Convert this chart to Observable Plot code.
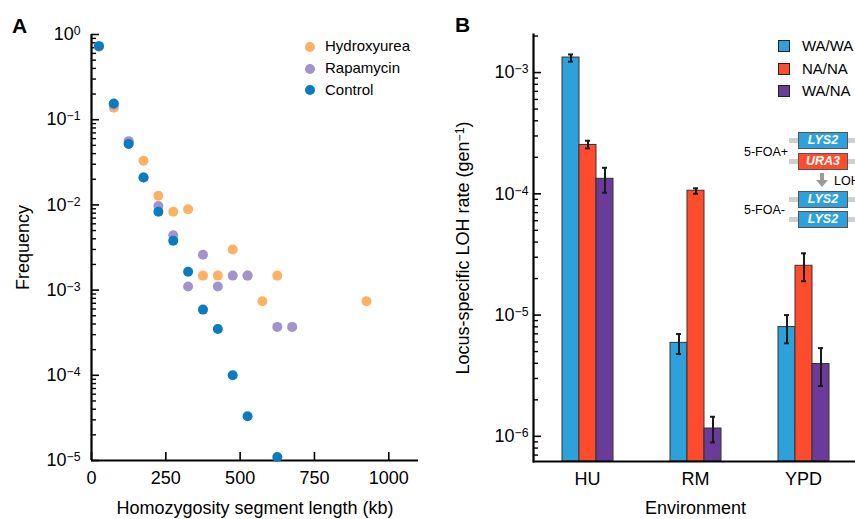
<!DOCTYPE html>
<html><head><meta charset="utf-8">
<script src="https://cdn.jsdelivr.net/npm/d3@7"></script>
<script src="https://cdn.jsdelivr.net/npm/@observablehq/plot@0.6"></script>
<style>
html,body{margin:0;padding:0;background:#fff;overflow:hidden;}
#wrap{position:relative;width:855px;height:519px;overflow:hidden;font-family:"Liberation Sans",Arial,Helvetica,sans-serif;color:#000;}
.abs{position:absolute;white-space:nowrap;}
.panel{position:absolute;top:0;}
.lg{position:absolute;font-size:15px;line-height:18px;white-space:nowrap;}
.dotsw{position:absolute;width:10px;height:10px;border-radius:50%;}
.sqsw{position:absolute;width:10px;height:10px;border:1.5px solid #222;}
.chr{position:absolute;height:5px;background:#cfcfcf;}
.gene{position:absolute;height:15px;border:1px solid #555;color:#fff;font-style:italic;font-weight:bold;font-size:12.5px;line-height:15px;text-align:center;}
.plab{position:absolute;font-size:12.5px;white-space:nowrap;}
</style></head>
<body><div id="wrap"></div>
<script>
const FONT = '"Liberation Sans", Arial, Helvetica, sans-serif';

// ---------- Panel A data ----------
const seriesA = ["Hydroxyurea", "Rapamycin", "Control"];
const colorsA = ["#fdb163", "#a393cc", "#0a7bc0"];
const huLength = [25, 75, 125, 175, 225, 275, 325, 375, 425, 475, 525, 575, 625, 925];
const huFreq   = [0.72, 0.138, 0.054, 0.033, 0.0128, 0.0083, 0.0089, 0.00148, 0.00148, 0.0030, 0.00148, 0.00074, 0.00148, 0.00074];
const rmLength = [25, 75, 125, 175, 225, 275, 325, 375, 425, 475, 525, 625, 675];
const rmFreq   = [0.73, 0.15, 0.056, 0.021, 0.0097, 0.0044, 0.0011, 0.0026, 0.0011, 0.00148, 0.00148, 0.00037, 0.00037];
const ctLength = [25, 75, 125, 175, 225, 275, 325, 375, 425, 475, 525, 625];
const ctFreq   = [0.73, 0.155, 0.052, 0.021, 0.0083, 0.0038, 0.00164, 0.00059, 0.00035, 0.0001, 0.000033, 0.000011];
const xTicksA = [0, 250, 500, 750, 1000];
const yTicksA = [1e-5, 1e-4, 1e-3, 1e-2, 1e-1, 1];

// ---------- Panel B data ----------
const environments = ["HU", "RM", "YPD"];
const genotypes = ["WA/WA", "NA/NA", "WA/NA"];
const colorsB = ["#2ea1da", "#fe4c2d", "#6a3b98"];
const rateHU  = [1.33e-3, 2.53e-4, 1.33e-4];
const rateRM  = [5.9e-6, 1.06e-4, 1.16e-6];
const rateYPD = [7.96e-6, 2.55e-5, 3.95e-6];
const lowHU   = [1.23e-3, 2.37e-4, 1.02e-4];
const lowRM   = [4.77e-6, 1.0e-4, 8.9e-7];
const lowYPD  = [5.85e-6, 1.9e-5, 2.6e-6];
const highHU  = [1.41e-3, 2.74e-4, 1.64e-4];
const highRM  = [6.97e-6, 1.11e-4, 1.45e-6];
const highYPD = [1.0e-5, 3.23e-5, 5.34e-6];
const yTicksB = [1e-6, 1e-5, 1e-4, 1e-3];
const yDomainB = [6.2e-7, 2.06e-3];

// ---------- helpers ----------
const toRows = (xs, ys, s) => xs.map((x, i) => ({len: x, freq: ys[i], series: s}));
const ptsA = [
  toRows(huLength, huFreq, seriesA[0]),
  toRows(rmLength, rmFreq, seriesA[1]),
  toRows(ctLength, ctFreq, seriesA[2])
];
function minorTicks(lo, hi) {
  const out = [];
  for (let e = Math.floor(Math.log10(lo)); e <= Math.ceil(Math.log10(hi)); e++)
    for (let m = 2; m <= 9; m++) { const v = m * Math.pow(10, e); if (v >= lo && v <= hi) out.push(v); }
  return out;
}
const powFmt = d => "10^" + Math.round(Math.log10(d));
const NS = "http://www.w3.org/2000/svg";
function supify(svg) {
  svg.querySelectorAll("text").forEach(t => {
    if (t.querySelector("tspan")) return;
    const s = t.textContent;
    if (!s.includes("^")) return;
    const parts = s.split(/\^(-?\d+)/);
    t.textContent = "";
    parts.forEach((p, i) => {
      if (!p) return;
      const ts = document.createElementNS(NS, "tspan");
      if (i % 2 === 1) {
        ts.setAttribute("baseline-shift", "40%");
        ts.setAttribute("font-size", "0.68em");
        ts.textContent = p.replace("-", "\u2212");
      } else ts.textContent = p;
      t.appendChild(ts);
    });
  });
}

const wrap = document.getElementById("wrap");

// ---------- Panel A ----------
const plotA = Plot.plot({
  width: 430, height: 519,
  marginLeft: 91, marginRight: 12, marginTop: 34, marginBottom: 59,
  style: {fontFamily: FONT, fontSize: "18px", color: "#000", background: "transparent", overflow: "visible"},
  x: {domain: [0, 1100]},
  y: {type: "log", domain: [1e-5, 1]},
  marks: [
    Plot.axisX(xTicksA, {tickSize: -8, tickPadding: 19, strokeWidth: 1.6, tickFormat: d3.format("d"), label: "Homozygosity segment length (kb)", labelAnchor: "center", labelOffset: 53, labelArrow: "none"}),
    Plot.axisY(yTicksA, {tickSize: -8, tickPadding: 19, strokeWidth: 1.6, tickFormat: powFmt, label: "Frequency", labelAnchor: "center", labelOffset: 75, labelArrow: "none"}),
    Plot.axisY(minorTicks(1e-5, 1), {tickSize: -5, strokeWidth: 1.4, fill: "none", label: null}),
    Plot.ruleX([0], {strokeWidth: 2.2}),
    Plot.ruleY([1e-5], {strokeWidth: 2.2}),
    Plot.dot(ptsA[0], {x: "len", y: "freq", r: 5, fill: colorsA[0]}),
    Plot.dot(ptsA[1], {x: "len", y: "freq", r: 5, fill: colorsA[1]}),
    Plot.dot(ptsA[2], {x: "len", y: "freq", r: 5, fill: colorsA[2]})
  ]
});
supify(plotA);
plotA.classList.add("panel");
plotA.style.left = "0px";
wrap.appendChild(plotA);

// ---------- Panel B ----------
const ratesB = [rateHU, rateRM, rateYPD], lowsB = [lowHU, lowRM, lowYPD], highsB = [highHU, highRM, highYPD];
const rowsB = [];
environments.forEach((g, i) => genotypes.forEach((gt, j) => rowsB.push({env: g, geno: gt, rate: ratesB[i][j], lo: lowsB[i][j], hi: highsB[i][j]})));

const plotB = Plot.plot({
  width: 428, height: 519,
  marginLeft: 102, marginRight: 0, marginTop: 34, marginBottom: 58,
  style: {fontFamily: FONT, fontSize: "18px", color: "#000", background: "transparent", overflow: "visible"},
  fx: {domain: environments, padding: 0},
  x: {domain: genotypes, paddingInner: 0, paddingOuter: 1.52, axis: null},
  y: {type: "log", domain: yDomainB},
  color: {domain: genotypes, range: colorsB},
  marks: [
    Plot.barY(rowsB, {fx: "env", x: "geno", y1: yDomainB[0], y2: "rate", fill: "geno", stroke: "#333", strokeWidth: 1}),
    Plot.ruleX(rowsB, {fx: "env", x: "geno", y1: "lo", y2: "hi", stroke: "#1a1a1a", strokeWidth: 2}),
    Plot.tickY(rowsB, {fx: "env", x: "geno", y: "lo", stroke: "#1a1a1a", strokeWidth: 2, insetLeft: 6, insetRight: 6}),
    Plot.tickY(rowsB, {fx: "env", x: "geno", y: "hi", stroke: "#1a1a1a", strokeWidth: 2, insetLeft: 6, insetRight: 6}),
    Plot.axisY(yTicksB, {tickSize: -8, tickPadding: 13, strokeWidth: 1.6, tickFormat: powFmt, label: "Locus-specific LOH rate (gen^-1)", labelAnchor: "center", labelOffset: 77, labelArrow: "none"}),
    Plot.axisY(minorTicks(yDomainB[0], yDomainB[1]), {tickSize: -5, strokeWidth: 1.4, fill: "none", label: null}),
    Plot.axisFx({anchor: "bottom", tickSize: 0, tickPadding: 11, label: "Environment", labelAnchor: "center", labelOffset: 52}),
    Plot.ruleY([yDomainB[0]], {strokeWidth: 2.2}),
    Plot.frame({anchor: "left", facetAnchor: "left", strokeWidth: 2.2})
  ]
});
supify(plotB);
plotB.classList.add("panel");
plotB.style.left = "430px";
wrap.appendChild(plotB);

// ---------- overlay text: panel letters, legends, schematic ----------
function addDiv(cls, css, text) {
  const d = document.createElement("div");
  d.className = cls;
  Object.assign(d.style, css);
  if (text != null) d.textContent = text;
  wrap.appendChild(d);
  return d;
}
addDiv("abs", {left: "12px", top: "14px", fontSize: "21px", fontWeight: "bold"}, "A");
addDiv("abs", {left: "455px", top: "13px", fontSize: "21px", fontWeight: "bold"}, "B");

// legend A
const legATop = [46.5, 68.5, 90];
seriesA.forEach((s, i) => {
  addDiv("dotsw", {left: "305px", top: (legATop[i] - 5) + "px", background: colorsA[i]});
  addDiv("lg", {left: "325px", top: (legATop[i] - 9.5) + "px"}, s);
});
// legend B
const legBTop = [46, 69, 91];
genotypes.forEach((g, i) => {
  addDiv("sqsw", {left: "778px", top: (legBTop[i] - 6) + "px", background: colorsB[i]});
  addDiv("lg", {left: "802px", top: (legBTop[i] - 9.5) + "px"}, g);
});

// schematic inset
const geneBoxes = [["LYS2", 132, colorsB[0]], ["URA3", 153, colorsB[1]], ["LYS2", 191, colorsB[0]], ["LYS2", 211, colorsB[0]]];
geneBoxes.forEach(([name, top, col]) => {
  addDiv("chr", {left: "789px", width: "80px", top: (top + 6) + "px"});
  addDiv("gene", {left: "798px", width: "48px", top: top + "px", background: col}, name);
});
addDiv("plab", {left: "744px", top: "145px"}, "5-FOA+");
addDiv("plab", {left: "744px", top: "203px"}, "5-FOA-");
addDiv("plab", {left: "834px", top: "174px"}, "LOH");
// grey arrow
const arr = document.createElementNS(NS, "svg");
arr.setAttribute("width", "12"); arr.setAttribute("height", "16");
arr.style.position = "absolute"; arr.style.left = "816px"; arr.style.top = "173px";
arr.innerHTML = '<rect x="4" y="0" width="4" height="8" fill="#9a9a9a"/><path d="M0,7 L12,7 L6,14 Z" fill="#9a9a9a"/>';
wrap.appendChild(arr);
</script>
</body></html>
